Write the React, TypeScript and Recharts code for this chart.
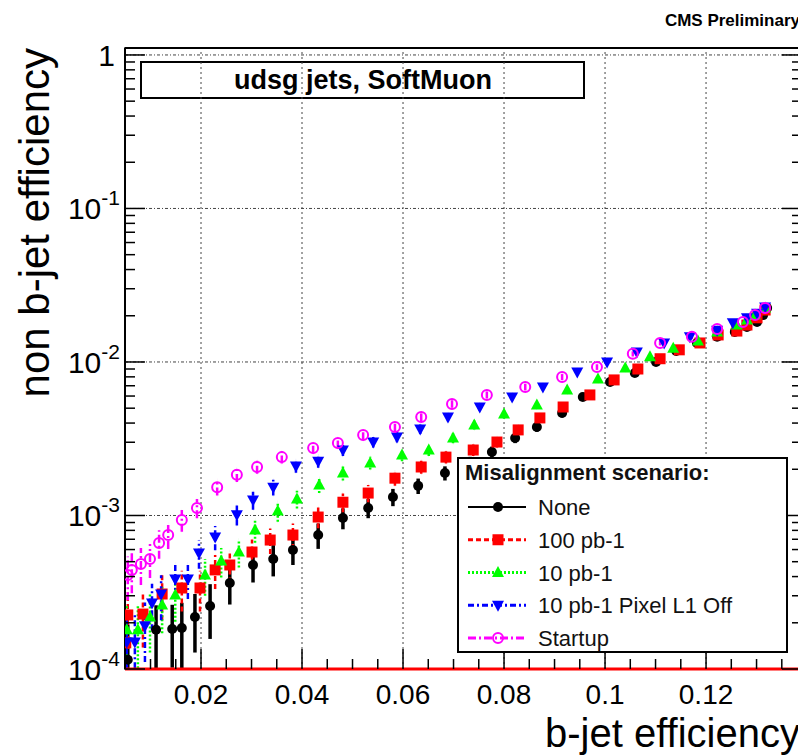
import React from "react";
import {
  ScatterChart,
  Scatter,
  XAxis,
  YAxis,
  ErrorBar,
  ReferenceLine,
  ReferenceArea,
  Legend,
} from "recharts";

const FONT = '"Liberation Sans", Arial, Helvetica, sans-serif';

// [b-jet efficiency, non b-jet efficiency, error]
type Pt = [number, number, number];

const none: Pt[] = [
  [0.0055, 1.15e-4, 0.8e-4], [0.0111, 1.8e-4, 0.8e-4], [0.0143, 1.82e-4, 0.8e-4],
  [0.0162, 1.85e-4, 0.85e-4], [0.0188, 2.18e-4, 0.9e-4], [0.0218, 2.57e-4, 1.0e-4],
  [0.0257, 3.63e-4, 1.0e-4], [0.0303, 4.76e-4, 1.1e-4], [0.0343, 5.21e-4, 1.2e-4],
  [0.0382, 5.96e-4, 1.2e-4], [0.0432, 7.46e-4, 1.4e-4], [0.0481, 9.63e-4, 1.5e-4],
  [0.0531, 1.12e-3, 1.6e-4], [0.058, 1.32e-3, 1.7e-4], [0.063, 1.56e-3, 1.8e-4],
  [0.0683, 1.89e-3, 2.0e-4], [0.0733, 2.2e-3, 2.1e-4], [0.0776, 2.59e-3, 2.2e-4],
  [0.0822, 3.2e-3, 2.4e-4], [0.0865, 3.77e-3, 2.6e-4], [0.0915, 4.65e-3, 2.9e-4],
  [0.0956, 5.92e-3, 3.2e-4], [0.101, 7.41e-3, 3.6e-4], [0.1059, 8.48e-3, 3.8e-4],
  [0.1101, 1.0e-2, 4.1e-4], [0.1141, 1.18e-2, 4.5e-4], [0.1182, 1.33e-2, 4.8e-4],
  [0.1222, 1.46e-2, 5.0e-4], [0.1257, 1.57e-2, 5.2e-4], [0.1281, 1.69e-2, 5.4e-4],
  [0.1301, 1.82e-2, 5.6e-4], [0.1313, 2.02e-2, 5.9e-4], [0.1321, 2.25e-2, 6.2e-4],
];

const pb100: Pt[] = [
  [0.0051, 1.48e-4, 0.8e-4], [0.0055, 2.25e-4, 0.9e-4], [0.0085, 2.28e-4, 0.9e-4],
  [0.0123, 3.08e-4, 1.0e-4], [0.0162, 3.37e-4, 1.0e-4], [0.0198, 3.37e-4, 1.0e-4],
  [0.0228, 4.42e-4, 1.1e-4], [0.0257, 4.76e-4, 1.1e-4], [0.0301, 5.78e-4, 1.2e-4],
  [0.0337, 6.92e-4, 1.3e-4], [0.0382, 7.46e-4, 1.4e-4], [0.0432, 9.77e-4, 1.5e-4],
  [0.0481, 1.22e-3, 1.7e-4], [0.0531, 1.4e-3, 1.8e-4], [0.0584, 1.75e-3, 1.9e-4],
  [0.0636, 2.07e-3, 2.0e-4], [0.0685, 2.4e-3, 2.2e-4], [0.0739, 2.67e-3, 2.3e-4],
  [0.0786, 3.01e-3, 2.4e-4], [0.0828, 3.61e-3, 2.6e-4], [0.0871, 4.32e-3, 2.8e-4],
  [0.0917, 5.09e-3, 3.0e-4], [0.097, 6.1e-3, 3.3e-4], [0.1018, 7.64e-3, 3.6e-4],
  [0.1065, 9.0e-3, 3.9e-4], [0.1109, 1.05e-2, 4.2e-4], [0.1147, 1.2e-2, 4.5e-4],
  [0.1188, 1.33e-2, 4.8e-4], [0.1224, 1.5e-2, 5.1e-4], [0.1261, 1.59e-2, 5.2e-4],
  [0.1281, 1.74e-2, 5.5e-4], [0.1301, 1.94e-2, 5.8e-4], [0.1317, 2.18e-2, 6.1e-4],
];

const pb10: Pt[] = [
  [0.0053, 1.8e-4, 0.8e-4], [0.0075, 1.8e-4, 0.8e-4], [0.0099, 2.18e-4, 0.9e-4],
  [0.0123, 2.61e-4, 0.9e-4], [0.0149, 3.03e-4, 1.0e-4], [0.0208, 4.1e-4, 1.1e-4],
  [0.024, 5.05e-4, 1.1e-4], [0.0275, 5.78e-4, 1.2e-4], [0.0307, 8.05e-4, 1.4e-4],
  [0.0352, 1.07e-3, 1.6e-4], [0.039, 1.28e-3, 1.7e-4], [0.0434, 1.58e-3, 1.8e-4],
  [0.0481, 1.89e-3, 2.0e-4], [0.0535, 2.2e-3, 2.1e-4], [0.0598, 2.48e-3, 2.2e-4],
  [0.0651, 2.67e-3, 2.3e-4], [0.0699, 3.2e-3, 2.4e-4], [0.0741, 3.89e-3, 2.6e-4],
  [0.08, 4.58e-3, 2.9e-4], [0.0865, 5.25e-3, 3.0e-4], [0.0925, 6.57e-3, 3.4e-4],
  [0.0986, 7.75e-3, 3.6e-4], [0.104, 9.14e-3, 3.9e-4], [0.1089, 1.08e-2, 4.3e-4],
  [0.1135, 1.23e-2, 4.6e-4], [0.1184, 1.37e-2, 4.8e-4], [0.1222, 1.57e-2, 5.2e-4],
  [0.1261, 1.74e-2, 5.5e-4], [0.1281, 1.88e-2, 5.7e-4], [0.1297, 2.02e-2, 5.9e-4],
  [0.1317, 2.25e-2, 6.2e-4],
];

const pixelOff: Pt[] = [
  [0.0053, 1.5e-4, 0.8e-4], [0.0069, 1.5e-4, 0.8e-4], [0.0089, 1.91e-4, 0.8e-4],
  [0.0103, 2.69e-4, 0.9e-4], [0.0121, 3.08e-4, 1.0e-4], [0.0149, 3.86e-4, 1.0e-4],
  [0.0174, 3.86e-4, 1.0e-4], [0.0196, 5.7e-4, 1.2e-4], [0.0228, 7.24e-4, 1.3e-4],
  [0.0271, 1.01e-3, 1.5e-4], [0.0303, 1.26e-3, 1.7e-4], [0.0343, 1.53e-3, 1.8e-4],
  [0.0388, 2.1e-3, 2.0e-4], [0.0432, 2.26e-3, 2.1e-4], [0.0481, 2.67e-3, 2.3e-4],
  [0.0541, 3.01e-3, 2.4e-4], [0.0588, 3.25e-3, 2.5e-4], [0.0634, 3.66e-3, 2.6e-4],
  [0.0689, 4.38e-3, 2.8e-4], [0.0752, 5.09e-3, 3.0e-4], [0.0816, 5.92e-3, 3.2e-4],
  [0.0877, 6.87e-3, 3.4e-4], [0.0945, 8.61e-3, 3.8e-4], [0.1004, 1.0e-2, 4.1e-4],
  [0.1063, 1.16e-2, 4.4e-4], [0.1117, 1.33e-2, 4.8e-4], [0.1168, 1.46e-2, 5.0e-4],
  [0.1222, 1.61e-2, 5.3e-4], [0.1253, 1.8e-2, 5.6e-4], [0.1281, 1.94e-2, 5.8e-4],
  [0.1301, 2.08e-2, 6.0e-4], [0.1317, 2.28e-2, 6.3e-4],
];

const startup: Pt[] = [
  [0.0055, 4.1e-4, 1.3e-4], [0.0063, 4.42e-4, 1.3e-4], [0.0081, 4.83e-4, 1.3e-4],
  [0.0099, 5.21e-4, 1.3e-4], [0.0117, 6.62e-4, 1.4e-4], [0.0135, 7.46e-4, 1.4e-4],
  [0.0162, 9.35e-4, 1.5e-4], [0.0192, 1.12e-3, 1.6e-4], [0.0232, 1.53e-3, 1.8e-4],
  [0.0271, 1.84e-3, 1.9e-4], [0.0311, 2.07e-3, 2.0e-4], [0.036, 2.4e-3, 2.2e-4],
  [0.0422, 2.75e-3, 2.3e-4], [0.0471, 2.97e-3, 2.4e-4], [0.0521, 3.34e-3, 2.5e-4],
  [0.0584, 3.77e-3, 2.6e-4], [0.0636, 4.38e-3, 2.8e-4], [0.0697, 5.33e-3, 3.0e-4],
  [0.0766, 6.1e-3, 3.2e-4], [0.0842, 6.87e-3, 3.4e-4], [0.0915, 7.98e-3, 3.6e-4],
  [0.0984, 9.27e-3, 3.9e-4], [0.1055, 1.13e-2, 4.4e-4], [0.1109, 1.33e-2, 4.8e-4],
  [0.1172, 1.46e-2, 5.0e-4], [0.1222, 1.64e-2, 5.3e-4], [0.1273, 1.82e-2, 5.6e-4],
  [0.1297, 2.02e-2, 5.9e-4], [0.1317, 2.25e-2, 6.2e-4],
];

const seriesNames = ["None", "100 pb-1", "10 pb-1", "10 pb-1 Pixel L1 Off", "Startup"];
const seriesColors = ["#000000", "#ff0000", "#00ff00", "#0000ff", "#ff00ff"];
const seriesData = [none, pb100, pb10, pixelOff, startup];

const xMajor = [0.02, 0.04, 0.06, 0.08, 0.1, 0.12];
const xLabels = ["0.02", "0.04", "0.06", "0.08", "0.1", "0.12"];
const yMajor = [1e-4, 1e-3, 1e-2, 1e-1, 1];
const yExponents = ["-4", "-3", "-2", "-1", ""];

const X_DOMAIN: [number, number] = [0.00495, 0.139];
const Y_DOMAIN: [number, number] = [1e-4, 1.11];

// minor ticks every 0.005 on x, 1..9 per decade on y
const xTicks = Array.from({ length: 27 }, (_, i) => Number((0.005 * (i + 1)).toFixed(3)));
const yTicks: number[] = [];
yMajor.slice(0, 4).forEach((d) => {
  for (let k = 1; k <= 9; k++) yTicks.push(Number((k * d).toPrecision(2)));
});
yTicks.push(1);

const styles = [
  { shape: "circle", dash: undefined, bar: 3.5, line: undefined },
  { shape: "square", dash: "5 3", bar: 2.5, line: "5 3" },
  { shape: "triUp", dash: "2 2", bar: 2.5, line: "2 2" },
  { shape: "triDown", dash: "6 3 2 3", bar: 2.5, line: "6 3 2 3" },
  { shape: "openCircle", dash: "8 3 2 3", bar: 2.5, line: "8 3 2 3" },
];

const rows = (pts: Pt[]) =>
  pts.map(([x, y, e]) => ({ x, y, err: [Math.min(e, y - 1.01e-4), e] }));

function Marker({ kind, color, cx, cy }: { kind: string; color: string; cx?: number; cy?: number }) {
  if (cx == null || cy == null) return null;
  switch (kind) {
    case "circle":
      return <circle cx={cx} cy={cy} r={5} fill={color} />;
    case "square":
      return <rect x={cx - 5.5} y={cy - 5.5} width={11} height={11} fill={color} />;
    case "triUp":
      return <polygon points={`${cx},${cy - 6.5} ${cx + 6},${cy + 4.5} ${cx - 6},${cy + 4.5}`} fill={color} />;
    case "triDown":
      return <polygon points={`${cx},${cy + 6.5} ${cx + 6},${cy - 4.5} ${cx - 6},${cy - 4.5}`} fill={color} />;
    default:
      return <circle cx={cx} cy={cy} r={5} fill="none" stroke={color} strokeWidth={2} />;
  }
}

const xIndex = (v: number) => xMajor.findIndex((m) => Math.abs(m - v) < 1e-6);
const yIndex = (v: number) => yMajor.findIndex((m) => Math.abs(Math.log10(m / v)) < 1e-6);

function BottomTick(props: any) {
  const { x, y, payload } = props;
  const i = xIndex(payload.value);
  return (
    <g>
      <line x1={x} x2={x} y1={y} y2={y - (i >= 0 ? 20 : 10)} stroke="#000" strokeWidth={1.5} />
      {i >= 0 && (
        <text x={x} y={y + 35} textAnchor="middle" fontSize={28} fontFamily={FONT} fill="#000">
          {xLabels[i]}
        </text>
      )}
    </g>
  );
}

function TopTick(props: any) {
  const { x, y, payload } = props;
  const i = xIndex(payload.value);
  return <line x1={x} x2={x} y1={y} y2={y + (i >= 0 ? 20 : 10)} stroke="#000" strokeWidth={1.5} />;
}

function LeftTick(props: any) {
  const { x, y, payload } = props;
  const i = yIndex(payload.value);
  return (
    <g>
      <line x1={x} x2={x + (i >= 0 ? 20 : 10)} y1={y} y2={y} stroke="#000" strokeWidth={1.5} />
      {i >= 0 &&
        (yExponents[i] === "" ? (
          <text x={x - 10} y={y + 11} textAnchor="end" fontSize={30} fontFamily={FONT} fill="#000">
            1
          </text>
        ) : (
          <text x={x - 5} y={y + 11} textAnchor="end" fontSize={30} fontFamily={FONT} fill="#000">
            10
            <tspan dy={-14} fontSize={21}>
              {yExponents[i]}
            </tspan>
          </text>
        ))}
    </g>
  );
}

function RightTick(props: any) {
  const { x, y, payload } = props;
  const i = yIndex(payload.value);
  return <line x1={x} x2={x - (i >= 0 ? 20 : 10)} y1={y} y2={y} stroke="#000" strokeWidth={1.5} />;
}

function LegendBox() {
  return (
    <svg width={331} height={196} style={{ display: "block" }}>
      <rect x={1} y={1} width={329} height={194} fill="#fff" stroke="#000" strokeWidth={2} />
      <text x={8} y={23} fontFamily={FONT} fontWeight="bold" fontSize={22} fill="#111">
        Misalignment scenario:
      </text>
      {seriesNames.map((name, i) => {
        const cy = 50 + i * 32.75;
        return (
          <g key={name}>
            <line
              x1={11}
              x2={69}
              y1={cy}
              y2={cy}
              stroke={seriesColors[i]}
              strokeWidth={i === 0 ? 2 : 3}
              strokeDasharray={styles[i].line}
            />
            <Marker kind={styles[i].shape} color={seriesColors[i]} cx={41} cy={cy} />
            <text x={81} y={cy + 8} fontFamily={FONT} fontSize={22} fill="#111">
              {name}
            </text>
          </g>
        );
      })}
    </svg>
  );
}

export default function App() {
  return (
    <ScatterChart width={798} height={748} margin={{ top: 0, right: 0, bottom: 0, left: 0 }}>
      <XAxis
        type="number"
        dataKey="x"
        domain={X_DOMAIN}
        allowDataOverflow
        ticks={xTicks}
        interval={0}
        height={87}
        tickSize={0}
        tickMargin={0}
        tickLine={false}
        axisLine={{ stroke: "#ff0000", strokeWidth: 3 }}
        tick={BottomTick}
      />
      <XAxis
        xAxisId="top"
        orientation="top"
        type="number"
        domain={X_DOMAIN}
        allowDataOverflow
        ticks={xTicks}
        interval={0}
        height={40}
        tickSize={0}
        tickMargin={0}
        tickLine={false}
        axisLine={{ stroke: "#000", strokeWidth: 2 }}
        tick={TopTick}
      />
      <YAxis
        type="number"
        dataKey="y"
        scale="log"
        domain={Y_DOMAIN}
        allowDataOverflow
        ticks={yTicks}
        interval={0}
        width={117}
        tickSize={0}
        tickMargin={0}
        tickLine={false}
        axisLine={{ stroke: "#000", strokeWidth: 2 }}
        tick={LeftTick}
      />
      <YAxis
        yAxisId="right"
        orientation="right"
        type="number"
        scale="log"
        domain={Y_DOMAIN}
        allowDataOverflow
        ticks={yTicks}
        interval={0}
        width={4}
        tickSize={0}
        tickMargin={0}
        tickLine={false}
        axisLine={{ stroke: "#ff0000", strokeWidth: 3 }}
        tick={RightTick}
      />

      {xMajor.map((v) => (
        <ReferenceLine key={`gx${v}`} x={v} stroke="#444" strokeWidth={1} strokeDasharray="2 3" />
      ))}
      {yMajor.slice(1).map((v) => (
        <ReferenceLine key={`gy${v}`} y={v} stroke="#444" strokeWidth={1} strokeDasharray="3 2 1 2" />
      ))}

      <rect x={133} y={54} width={443} height={36} fill="#fff" stroke="#000" strokeWidth={2} />
      <text x={355} y={81} textAnchor="middle" fontFamily={FONT} fontWeight="bold" fontSize={27} fill="#000">
        udsg jets, SoftMuon
      </text>

      {seriesData.map((pts, i) => (
        <Scatter
          key={seriesNames[i]}
          name={seriesNames[i]}
          data={rows(pts)}
          fill={seriesColors[i]}
          isAnimationActive={false}
          shape={(p: any) => <Marker kind={styles[i].shape} color={seriesColors[i]} cx={p.cx} cy={p.cy} />}
        >
          <ErrorBar
            dataKey="err"
            direction="y"
            width={0}
            stroke={seriesColors[i]}
            strokeWidth={styles[i].bar}
            strokeDasharray={styles[i].dash}
            isAnimationActive={false}
          />
        </Scatter>
      ))}

      <ReferenceArea
        x1={X_DOMAIN[0]}
        x2={X_DOMAIN[1]}
        y1={Y_DOMAIN[0]}
        y2={Y_DOMAIN[1]}
        fill="none"
        fillOpacity={0}
        stroke="#000"
        strokeWidth={1.5}
      />

      <text x={792} y={18} textAnchor="end" fontFamily={FONT} fontWeight="bold" fontSize={17} fill="#000">
        CMS Preliminary
      </text>
      <text x={792} y={739} textAnchor="end" fontFamily={FONT} fontSize={40} fill="#000">
        b-jet efficiency
      </text>
      <text transform="rotate(-90)" x={-40} y={41} textAnchor="end" fontFamily={FONT} fontSize={42} fill="#000">
        non b-jet efficiency
      </text>

      <Legend
        layout="vertical"
        align="center"
        verticalAlign="middle"
        content={() => <LegendBox />}
        wrapperStyle={{ left: 449, top: 449, width: 331, height: 196 }}
      />
    </ScatterChart>
  );
}
